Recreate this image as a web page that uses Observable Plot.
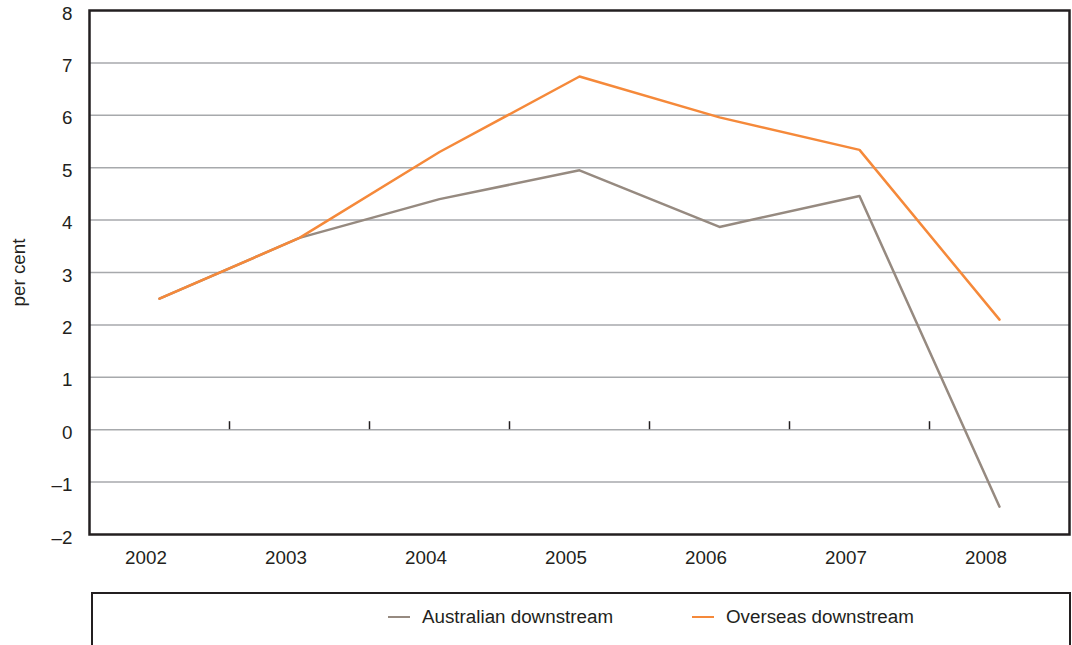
<!DOCTYPE html>
<html><head><meta charset="utf-8">
<script src="https://cdn.jsdelivr.net/npm/d3@7"></script>
<script src="https://cdn.jsdelivr.net/npm/@observablehq/plot@0.6"></script>
<style>
body{margin:0;background:#fff;font-family:"Liberation Sans",Arial,sans-serif;}
#wrap{position:relative;width:1072px;height:645px;overflow:hidden;background:#fff;}
#legend{position:absolute;left:91px;top:592px;width:980px;height:80px;border:2px solid #231f20;box-sizing:border-box;}
.item{position:absolute;top:606px;height:22px;display:flex;align-items:center;font-size:18.8px;color:#231f20;white-space:nowrap;}
.sw{width:22px;height:2.5px;margin-right:12px;}
</style></head><body><div id="wrap"></div>
<script>
const years = [2002, 2003, 2004, 2005, 2006, 2007, 2008];
const australian = [2.5, 3.66, 4.40, 4.95, 3.87, 4.46, -1.47];
const overseas = [2.5, 3.66, 5.30, 6.74, 5.96, 5.34, 2.10];
const seriesNames = ["Australian downstream", "Overseas downstream"];
const seriesColors = ["#968a80", "#f5893a"];
const yTicks = [-2, -1, 0, 1, 2, 3, 4, 5, 6, 7, 8];
const yLabel = "per cent";

const data = years.flatMap((yr, i) => [
  {year: yr, value: australian[i], series: seriesNames[0]},
  {year: yr, value: overseas[i], series: seriesNames[1]}
]);
const ink = "#231f20";
const chart = Plot.plot({
  width: 1072, height: 585,
  marginLeft: 89, marginRight: 3, marginTop: 10, marginBottom: 51,
  style: {fontFamily: "'Liberation Sans', Arial, sans-serif", fontSize: "18.8px", color: ink, background: "#fff"},
  x: {type: "linear", domain: [years[0] - 0.5, years[years.length - 1] + 0.5]},
  y: {domain: [yTicks[0], yTicks[yTicks.length - 1]]},
  color: {domain: seriesNames, range: seriesColors},
  marks: [
    Plot.ruleY(yTicks.slice(1, -1), {stroke: "#a7a9ac", strokeWidth: 1.5}),
    Plot.ruleX(years.slice(0, -1).map(d => d + 0.5), {y1: 0, y2: 0, insetTop: -8, stroke: ink, strokeWidth: 1.5}),
    Plot.line(data, {x: "year", y: "value", z: "series", stroke: "series", strokeWidth: 2.5}),
    Plot.frame({stroke: ink, strokeWidth: 2.5}),
    Plot.axisX(years, {tickSize: 0, tickPadding: 16, dx: -13.5, tickFormat: d => String(d), label: null, fill: ink}),
    Plot.axisY(yTicks, {tickSize: 0, tickPadding: 17, dy: 3, tickFormat: d => d < 0 ? "\u2013" + (-d) : String(d), label: null, fill: ink}),
    Plot.text([yLabel], {frameAnchor: "left", textAnchor: "middle", dx: -71, rotate: -90, fontSize: 18.8, fill: ink})
  ]
});
const wrap = document.getElementById("wrap");
wrap.appendChild(chart);
const legend = document.createElement("div");
legend.id = "legend";
wrap.appendChild(legend);
const itemLeft = [388, 692];
seriesNames.forEach((name, i) => {
  const it = document.createElement("div");
  it.className = "item";
  it.style.left = itemLeft[i] + "px";
  const sw = document.createElement("span");
  sw.className = "sw";
  sw.style.background = seriesColors[i];
  const tx = document.createElement("span");
  tx.textContent = name;
  it.appendChild(sw); it.appendChild(tx);
  wrap.appendChild(it);
});
</script></body></html>
